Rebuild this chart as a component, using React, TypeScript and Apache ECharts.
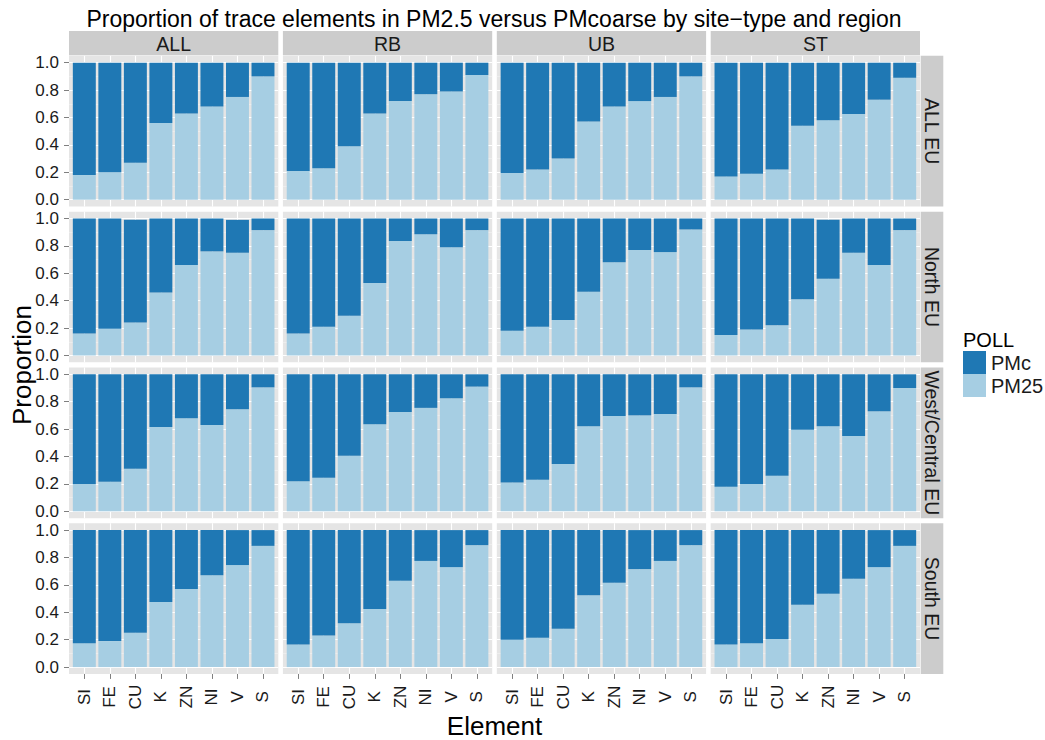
import React, { useEffect, useRef } from "react";
import * as echarts from "echarts";

const ELEMENTS = ["SI", "FE", "CU", "K", "ZN", "NI", "V", "S"];
const SITE_TYPES = ["ALL", "RB", "UB", "ST"];
const REGIONS = ["ALL EU", "North EU", "West/Central EU", "South EU"];

// ALL EU
const PM25_ALLEU_ALL = [0.18, 0.2, 0.27, 0.56, 0.63, 0.68, 0.75, 0.9];
const PMC_ALLEU_ALL = [0.82, 0.8, 0.73, 0.44, 0.37, 0.32, 0.25, 0.1];
const PM25_ALLEU_RB = [0.21, 0.23, 0.39, 0.63, 0.72, 0.77, 0.79, 0.91];
const PMC_ALLEU_RB = [0.79, 0.77, 0.61, 0.37, 0.28, 0.23, 0.21, 0.09];
const PM25_ALLEU_UB = [0.195, 0.22, 0.3, 0.57, 0.68, 0.72, 0.75, 0.9];
const PMC_ALLEU_UB = [0.805, 0.78, 0.7, 0.43, 0.32, 0.28, 0.25, 0.1];
const PM25_ALLEU_ST = [0.17, 0.19, 0.22, 0.54, 0.58, 0.625, 0.73, 0.89];
const PMC_ALLEU_ST = [0.83, 0.81, 0.78, 0.46, 0.42, 0.375, 0.27, 0.11];

// North EU
const PM25_NORTH_ALL = [0.16, 0.195, 0.24, 0.46, 0.66, 0.76, 0.75, 0.915];
const PMC_NORTH_ALL = [0.84, 0.805, 0.75, 0.54, 0.34, 0.24, 0.24, 0.085];
const PM25_NORTH_RB = [0.16, 0.21, 0.29, 0.53, 0.835, 0.885, 0.79, 0.915];
const PMC_NORTH_RB = [0.84, 0.79, 0.71, 0.47, 0.165, 0.115, 0.21, 0.085];
const PM25_NORTH_UB = [0.18, 0.21, 0.26, 0.465, 0.68, 0.77, 0.755, 0.92];
const PMC_NORTH_UB = [0.82, 0.79, 0.74, 0.535, 0.32, 0.23, 0.245, 0.08];
const PM25_NORTH_ST = [0.15, 0.19, 0.22, 0.41, 0.56, 0.75, 0.66, 0.915];
const PMC_NORTH_ST = [0.85, 0.81, 0.78, 0.59, 0.43, 0.25, 0.34, 0.085];

// West/Central EU
const PM25_WEST_ALL = [0.2, 0.215, 0.31, 0.615, 0.68, 0.63, 0.745, 0.905];
const PMC_WEST_ALL = [0.8, 0.785, 0.69, 0.385, 0.32, 0.37, 0.255, 0.095];
const PM25_WEST_RB = [0.22, 0.245, 0.405, 0.635, 0.725, 0.755, 0.825, 0.91];
const PMC_WEST_RB = [0.78, 0.755, 0.595, 0.365, 0.275, 0.245, 0.175, 0.09];
const PM25_WEST_UB = [0.21, 0.23, 0.345, 0.62, 0.695, 0.7, 0.71, 0.905];
const PMC_WEST_UB = [0.79, 0.77, 0.655, 0.38, 0.305, 0.3, 0.29, 0.095];
const PM25_WEST_ST = [0.18, 0.2, 0.26, 0.595, 0.62, 0.55, 0.73, 0.9];
const PMC_WEST_ST = [0.82, 0.8, 0.74, 0.405, 0.38, 0.45, 0.27, 0.1];

// South EU
const PM25_SOUTH_ALL = [0.175, 0.19, 0.25, 0.475, 0.57, 0.67, 0.745, 0.885];
const PMC_SOUTH_ALL = [0.825, 0.81, 0.75, 0.525, 0.43, 0.33, 0.255, 0.115];
const PM25_SOUTH_RB = [0.165, 0.23, 0.32, 0.425, 0.63, 0.775, 0.73, 0.89];
const PMC_SOUTH_RB = [0.835, 0.77, 0.68, 0.575, 0.37, 0.225, 0.27, 0.11];
const PM25_SOUTH_UB = [0.2, 0.215, 0.28, 0.525, 0.615, 0.715, 0.775, 0.89];
const PMC_SOUTH_UB = [0.8, 0.785, 0.72, 0.475, 0.385, 0.285, 0.225, 0.11];
const PM25_SOUTH_ST = [0.165, 0.175, 0.205, 0.455, 0.535, 0.645, 0.73, 0.885];
const PMC_SOUTH_ST = [0.835, 0.825, 0.795, 0.545, 0.465, 0.355, 0.27, 0.115];

const PM25_TABLE = [
  [PM25_ALLEU_ALL, PM25_ALLEU_RB, PM25_ALLEU_UB, PM25_ALLEU_ST],
  [PM25_NORTH_ALL, PM25_NORTH_RB, PM25_NORTH_UB, PM25_NORTH_ST],
  [PM25_WEST_ALL, PM25_WEST_RB, PM25_WEST_UB, PM25_WEST_ST],
  [PM25_SOUTH_ALL, PM25_SOUTH_RB, PM25_SOUTH_UB, PM25_SOUTH_ST],
];
const PMC_TABLE = [
  [PMC_ALLEU_ALL, PMC_ALLEU_RB, PMC_ALLEU_UB, PMC_ALLEU_ST],
  [PMC_NORTH_ALL, PMC_NORTH_RB, PMC_NORTH_UB, PMC_NORTH_ST],
  [PMC_WEST_ALL, PMC_WEST_RB, PMC_WEST_UB, PMC_WEST_ST],
  [PMC_SOUTH_ALL, PMC_SOUTH_RB, PMC_SOUTH_UB, PMC_SOUTH_ST],
];

const TITLE = "Proportion of trace elements in PM2.5 versus PMcoarse by site\u2212type and region";
const LIGHT = "#A6CEE3";
const DARK = "#1F78B4";
const FONT = "'Liberation Sans', Arial, Helvetica, sans-serif";

export default function App() {
  const ref = useRef<HTMLDivElement>(null);

  useEffect(() => {
    if (!ref.current) return;
    const chart = echarts.init(ref.current, undefined, { renderer: "svg" });

    const X0 = 69;
    const PITCH_X = 213.9;
    const PW = 209.3;
    const Y0 = 55.85;
    const PITCH_Y = 155.8;
    const PH = 150.7;
    const inner = PH / 1.1;
    const pad = (PH * 0.05) / 1.1;
    const xInset = (PW * 0.1) / 8.2;

    const grids: any[] = [];
    const xAxes: any[] = [];
    const yAxes: any[] = [];
    const series: any[] = [];
    const graphics: any[] = [];

    REGIONS.forEach((region, r) => {
      const py = Y0 + r * PITCH_Y;
      // right strip
      graphics.push({
        type: "rect",
        shape: { x: 920.7, y: py, width: 22.6, height: PH },
        style: { fill: "#CCCCCC" },
        silent: true,
      });
      graphics.push({
        type: "text",
        x: 932,
        y: py + PH / 2,
        rotation: -Math.PI / 2,
        style: {
          text: region,
          fontSize: 19.5,
          fontFamily: FONT,
          fill: "#1A1A1A",
          align: "center",
          verticalAlign: "middle",
        },
        silent: true,
      });

      SITE_TYPES.forEach((site, c) => {
        const px = X0 + c * PITCH_X;
        if (r === 0) {
          graphics.push({
            type: "rect",
            shape: { x: px, y: 31, width: PW, height: 24.3 },
            style: { fill: "#CCCCCC" },
            silent: true,
          });
          graphics.push({
            type: "text",
            x: px + PW / 2,
            y: 43.5,
            style: {
              text: site,
              fontSize: 19.5,
              fontFamily: FONT,
              fill: "#1A1A1A",
              align: "center",
              verticalAlign: "middle",
            },
            silent: true,
          });
        }
        graphics.push({
          type: "rect",
          shape: { x: px, y: py, width: PW, height: PH },
          style: { fill: "#E5E5E5" },
          z: -10,
          silent: true,
        });

        // background grid: horizontal gridlines + y labels
        const gBg = grids.length;
        grids.push({ left: px, top: py + pad, width: PW, height: inner });
        xAxes.push({ gridIndex: gBg, type: "value", min: 0, max: 1, show: false });
        yAxes.push({
          gridIndex: gBg,
          type: "value",
          min: 0,
          max: 1,
          interval: 0.2,
          axisLine: { show: false },
          axisTick: { show: c === 0, length: 5, lineStyle: { color: "#7F7F7F", width: 1 } },
          axisLabel: {
            show: c === 0,
            margin: 10,
            fontSize: 17,
            fontFamily: FONT,
            color: "#1A1A1A",
            formatter: (v: number) => v.toFixed(1),
          },
          splitLine: { show: true, lineStyle: { color: "#FFFFFF", width: 1.1 } },
          minorTick: { show: false, splitNumber: 2 },
          minorSplitLine: { show: true, lineStyle: { color: "#F2F2F2", width: 0.6 } },
        });

        // bar grid
        const gBar = grids.length;
        grids.push({ left: px + xInset, top: py, width: (PW * 8) / 8.2, height: PH });
        const xi = xAxes.length;
        xAxes.push({
          gridIndex: gBar,
          type: "category",
          data: ELEMENTS,
          position: "bottom",
          axisLine: { show: false, onZero: false },
          axisTick: {
            show: true,
            inside: true,
            alignWithLabel: true,
            length: PH,
            lineStyle: { color: "#FFFFFF", width: 1.1 },
          },
          axisLabel: { show: false },
          splitLine: { show: false },
        });
        if (r === REGIONS.length - 1) {
          xAxes.push({
            gridIndex: gBar,
            type: "category",
            data: ELEMENTS,
            position: "bottom",
            axisLine: { show: false, onZero: false },
            axisTick: {
              show: true,
              alignWithLabel: true,
              length: 5,
              lineStyle: { color: "#7F7F7F", width: 1 },
            },
            axisLabel: {
              rotate: 90,
              align: "center",
              verticalAlign: "middle",
              margin: 23,
              fontSize: 17,
              fontFamily: FONT,
              color: "#1A1A1A",
              interval: 0,
            },
            splitLine: { show: false },
          });
        }
        const yi = yAxes.length;
        yAxes.push({ gridIndex: gBar, type: "value", min: -0.05, max: 1.05, show: false });

        const stack = "s" + r + "_" + c;
        series.push({
          type: "bar",
          name: "PM25",
          xAxisIndex: xi,
          yAxisIndex: yi,
          stack,
          barWidth: "90%",
          data: PM25_TABLE[r][c],
          itemStyle: { color: LIGHT },
        });
        series.push({
          type: "bar",
          name: "PMc",
          xAxisIndex: xi,
          yAxisIndex: yi,
          stack,
          barWidth: "90%",
          data: PMC_TABLE[r][c],
          itemStyle: { color: DARK },
        });
      });
    });

    // titles
    graphics.push({
      type: "text",
      x: 494,
      y: 18.5,
      style: {
        text: TITLE,
        fontSize: 23,
        fontFamily: FONT,
        fill: "#000000",
        align: "center",
        verticalAlign: "middle",
      },
      silent: true,
    });
    graphics.push({
      type: "text",
      x: 494.5,
      y: 726,
      style: {
        text: "Element",
        fontSize: 26,
        fontFamily: FONT,
        fill: "#000000",
        align: "center",
        verticalAlign: "middle",
      },
      silent: true,
    });
    graphics.push({
      type: "text",
      x: 22,
      y: 365,
      rotation: Math.PI / 2,
      style: {
        text: "Proportion",
        fontSize: 26,
        fontFamily: FONT,
        fill: "#000000",
        align: "center",
        verticalAlign: "middle",
      },
      silent: true,
    });
    graphics.push({
      type: "text",
      x: 963,
      y: 340,
      style: {
        text: "POLL",
        fontSize: 20,
        fontFamily: FONT,
        fill: "#000000",
        align: "left",
        verticalAlign: "middle",
      },
      silent: true,
    });

    chart.setOption({
      animation: false,
      textStyle: { fontFamily: FONT },
      grid: grids,
      xAxis: xAxes,
      yAxis: yAxes,
      series,
      graphic: { elements: graphics },
      legend: {
        data: ["PMc", "PM25"],
        orient: "vertical",
        left: 963,
        top: 351,
        itemWidth: 23,
        itemHeight: 23,
        itemGap: 0,
        icon: "rect",
        padding: 0,
        selectedMode: false,
        textStyle: { fontSize: 20, color: "#1A1A1A", fontFamily: FONT },
      },
    });

    return () => chart.dispose();
  }, []);

  return (
    <div
      ref={ref}
      style={{ position: "absolute", left: 0, top: 0, width: 1045, height: 740, background: "#FFFFFF" }}
    />
  );
}
